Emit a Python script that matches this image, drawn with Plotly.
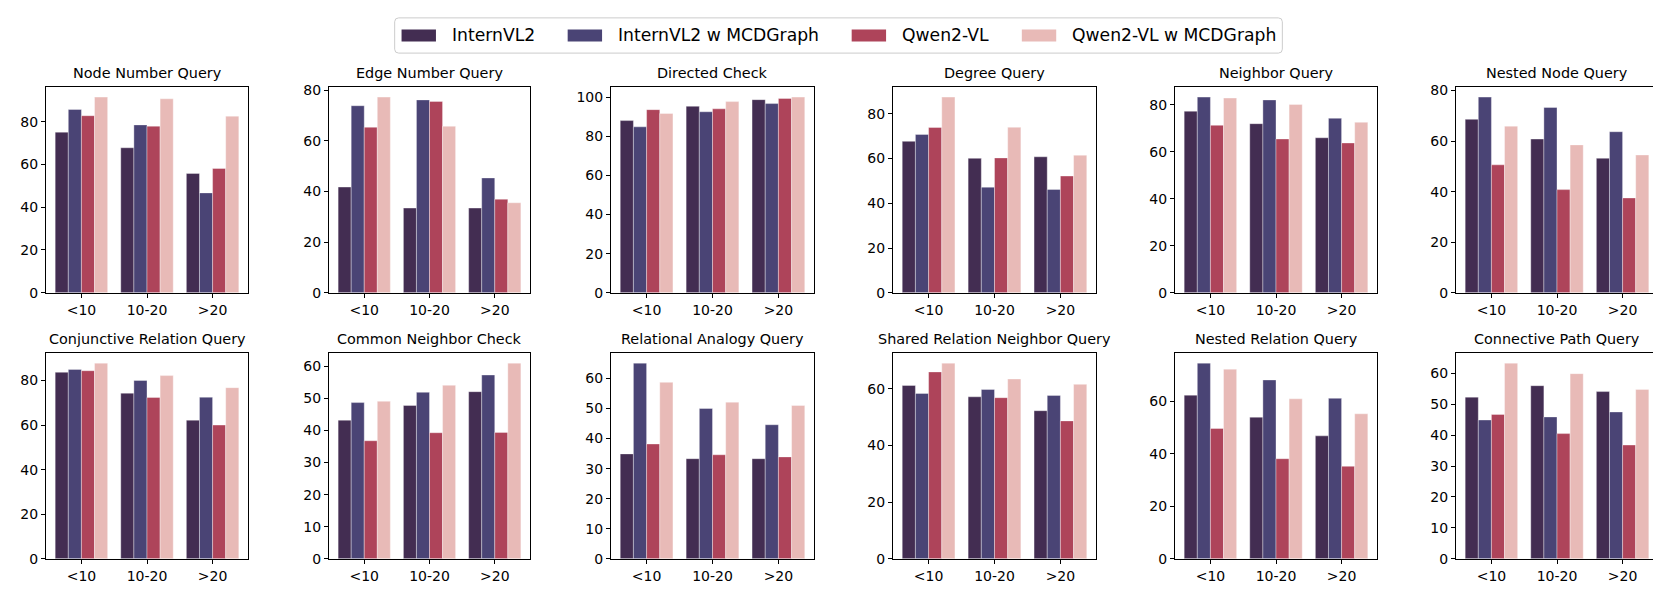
import plotly.graph_objects as go

categories = ["<10", "10-20", ">20"]
series_names = ["InternVL2", "InternVL2 w MCDGraph", "Qwen2-VL", "Qwen2-VL w MCDGraph"]
colors = ["#432d52", "#4a4475", "#ae445a", "#e8bab7"]

titles = ["Node Number Query", "Edge Number Query", "Directed Check", "Degree Query",
          "Neighbor Query", "Nested Node Query", "Conjunctive Relation Query",
          "Common Neighbor Check", "Relational Analogy Query", "Shared Relation Neighbor Query",
          "Nested Relation Query", "Connective Path Query"]

# values per task: [InternVL2, InternVL2 w MCDGraph, Qwen2-VL, Qwen2-VL w MCDGraph], each over categories
node_number = [[75.1, 67.8, 55.8], [85.7, 78.5, 46.7], [82.8, 77.9, 58.1], [91.5, 90.7, 82.6]]
edge_number = [[41.7, 33.4, 33.4], [73.8, 76.1, 45.3], [65.3, 75.5, 36.9], [77.2, 65.7, 35.5]]
directed_check = [[88.0, 95.3, 98.7], [84.8, 92.5, 96.7], [93.6, 94.0, 99.3], [91.6, 97.7, 100.0]]
degree_query = [[67.7, 60.1, 60.8], [70.8, 47.2, 46.2], [73.9, 60.3, 52.2], [87.5, 74.0, 61.5]]
neighbor_query = [[77.2, 71.9, 65.9], [83.2, 82.0, 74.2], [71.2, 65.4, 63.7], [82.8, 80.1, 72.5]]
nested_node = [[68.6, 60.8, 53.2], [77.4, 73.3, 63.7], [50.6, 40.8, 37.5], [65.9, 58.5, 54.5]]
conjunctive = [[83.7, 74.3, 62.2], [85.0, 80.0, 72.5], [84.4, 72.4, 60.0], [87.8, 82.2, 76.8]]
common_neighbor = [[43.2, 47.8, 52.1], [48.7, 51.9, 57.3], [36.8, 39.3, 39.4], [49.1, 54.1, 61.0]]
relational_analogy = [[34.9, 33.3, 33.3], [65.1, 50.0, 44.6], [38.2, 34.6, 33.9], [58.7, 52.1, 51.0]]
shared_relation = [[61.2, 57.2, 52.3], [58.4, 59.8, 57.7], [66.0, 56.9, 48.7], [69.1, 63.5, 61.6]]
nested_relation = [[62.3, 53.9, 46.8], [74.5, 68.1, 61.1], [49.6, 38.1, 35.2], [72.2, 60.9, 55.2]]
connective_path = [[52.3, 56.0, 54.1], [44.9, 45.9, 47.5], [46.7, 40.5, 36.8], [63.3, 59.9, 54.8]]

tasks = [node_number, edge_number, directed_check, degree_query, neighbor_query, nested_node,
         conjunctive, common_neighbor, relational_analogy, shared_relation, nested_relation,
         connective_path]
dticks = [20, 20, 20, 20, 20, 20, 20, 10, 10, 20, 20, 10]

W, H = 1661, 592
x_px = [(38, 240), (321, 522), (603, 806), (885, 1088), (1167, 1369), (1448, 1650)]
y_px = [(76, 286), (348, 558)]

fig = go.Figure()
layout = {}
font_family = "DejaVu Sans"
for i, (title, data) in enumerate(zip(titles, tasks)):
    r, c = divmod(i, 6)
    n = i + 1
    xa = "x" if n == 1 else f"x{n}"
    ya = "y" if n == 1 else f"y{n}"
    for s in range(4):
        fig.add_trace(go.Bar(
            x=categories, y=data[s], name=series_names[s],
            marker=dict(color=colors[s], line=dict(color="rgba(255,255,255,0.6)", width=0.6)),
            xaxis=xa, yaxis=ya, showlegend=False,
        ))
    ymax = max(max(v) for v in data) * 1.05
    x0, x1 = x_px[c]
    yt, yb = y_px[r]
    layout[f"xaxis{n if n > 1 else ''}"] = dict(
        domain=[x0 / W, x1 / W], anchor=ya, range=[-0.54, 2.54], type="category",
        showline=True, linecolor="black", linewidth=1, mirror=True,
        ticks="outside", ticklen=4, tickcolor="black", showgrid=False,
        tickfont=dict(family=font_family, size=14, color="black"),
    )
    layout[f"yaxis{n if n > 1 else ''}"] = dict(
        domain=[1 - yb / H, 1 - yt / H], anchor=xa, range=[0, ymax], dtick=dticks[i],
        showline=True, linecolor="black", linewidth=1, mirror=True,
        ticks="outside", ticklen=4, tickcolor="black", showgrid=False, zeroline=False,
        tickfont=dict(family=font_family, size=14, color="black"),
    )
    fig.add_annotation(
        text=title, x=(x0 + x1) / 2 / W, y=1 - (yt - 4) / H, xref="paper", yref="paper",
        xanchor="center", yanchor="bottom", showarrow=False,
        font=dict(family=font_family, size=14.4, color="black"),
    )

# ---- custom legend (matplotlib style: wide patch handles) ----
f = 17.2                      # legend font size, px
label_em = [4.858, 11.712, 5.092, 11.946]   # DejaVu Sans label widths in em
total_em = 2 * 0.4 + 4 * 2.0 + 4 * 0.8 + 3 * 2.0 + sum(label_em)
box_w = total_em * f
bx0 = (W - box_w) / 2
bx1 = bx0 + box_w
by0, by1 = 5, 41
ycen = (by0 + by1) / 2
rad = 4


def px(x):
    return x / W


def py(y):
    return 1 - y / H


path = (f"M {px(bx0 + rad)},{py(by0)} L {px(bx1 - rad)},{py(by0)} "
        f"Q {px(bx1)},{py(by0)} {px(bx1)},{py(by0 + rad)} L {px(bx1)},{py(by1 - rad)} "
        f"Q {px(bx1)},{py(by1)} {px(bx1 - rad)},{py(by1)} L {px(bx0 + rad)},{py(by1)} "
        f"Q {px(bx0)},{py(by1)} {px(bx0)},{py(by1 - rad)} L {px(bx0)},{py(by0 + rad)} "
        f"Q {px(bx0)},{py(by0)} {px(bx0 + rad)},{py(by0)} Z")
shapes = [dict(type="path", path=path, xref="paper", yref="paper",
               line=dict(color="#cccccc", width=1), fillcolor="rgba(255,255,255,0.8)")]

cur = bx0 + 0.4 * f
for s in range(4):
    hx0, hx1 = cur, cur + 2.0 * f
    shapes.append(dict(type="rect", xref="paper", yref="paper",
                       x0=px(hx0), x1=px(hx1), y0=py(ycen - 0.35 * f), y1=py(ycen + 0.35 * f),
                       line=dict(width=0), fillcolor=colors[s]))
    tx = hx1 + 0.8 * f
    fig.add_annotation(text=series_names[s], x=px(tx), y=py(ycen), xref="paper", yref="paper",
                       xanchor="left", yanchor="middle", showarrow=False,
                       font=dict(family=font_family, size=f, color="black"))
    cur = tx + label_em[s] * f + 2.0 * f

fig.update_layout(
    **layout,
    shapes=shapes,
    width=W, height=H,
    margin=dict(l=0, r=0, t=0, b=0),
    paper_bgcolor="white", plot_bgcolor="white",
    barmode="group", bargap=0.2, bargroupgap=0,
    font=dict(family=font_family, size=14, color="black"),
    showlegend=False,
)

fig.write_html("out.html")
